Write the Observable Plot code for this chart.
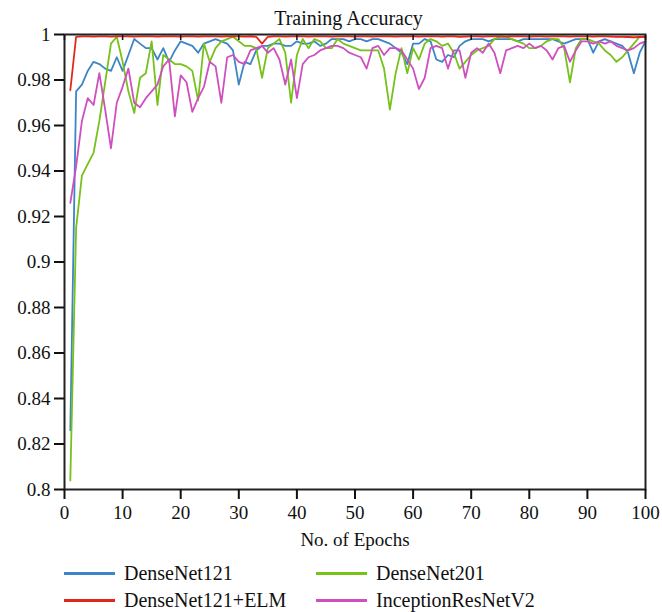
<!DOCTYPE html>
<html><head><meta charset="utf-8">
<script src="https://cdn.jsdelivr.net/npm/d3@7"></script>
<script src="https://cdn.jsdelivr.net/npm/@observablehq/plot@0.6"></script>
<style>
body{margin:0;background:#fff;font-family:"Liberation Serif",serif;color:#111;}
#title{height:24px;line-height:24px;padding-top:6px;box-sizing:border-box;font-size:20px;text-align:center;width:581px;margin-left:58px;overflow:visible;}
#legend{display:grid;grid-template-columns:252px 280px;margin-left:64px;padding-top:5px;}
.item{display:flex;align-items:center;height:27px;font-size:20px;white-space:nowrap;}
.sw{width:51px;height:3px;margin-right:9px;}
</style></head><body>
<div id="title">Training Accuracy</div>
<div id="chart"></div>
<div id="legend"></div>
<script>
const names = ["DenseNet121", "DenseNet201", "InceptionResNetV2", "DenseNet121+ELM"];
const colors = ["#3d85c6", "#76c11a", "#cf4fbf", "#e3261b"];
const legendOrder = ["DenseNet121", "DenseNet201", "DenseNet121+ELM", "InceptionResNetV2"];
const xTicks = [0, 10, 20, 30, 40, 50, 60, 70, 80, 90, 100];
const yTicks = [0.8, 0.82, 0.84, 0.86, 0.88, 0.9, 0.92, 0.94, 0.96, 0.98, 1];

const denseNet121 = [
 0.826, 0.975, 0.978, 0.984, 0.988, 0.987, 0.985, 0.984, 0.990, 0.984,
 0.991, 0.998, 0.996, 0.994, 0.994, 0.989, 0.994, 0.988, 0.993, 0.997,
 0.996, 0.995, 0.992, 0.996, 0.997, 0.998, 0.997, 0.996, 0.993, 0.978,
 0.988, 0.987, 0.993, 0.995, 0.995, 0.996, 0.996, 0.995, 0.995, 0.997,
 0.996, 0.996, 0.997, 0.995, 0.996, 0.998, 0.998, 0.998, 0.997, 0.998,
 0.998, 0.997, 0.998, 0.998, 0.997, 0.996, 0.994, 0.992, 0.987, 0.996,
 0.996, 0.998, 0.997, 0.989, 0.988, 0.991, 0.990, 0.995, 0.997, 0.998,
 0.998, 0.998, 0.997, 0.998, 0.998, 0.998, 0.998, 0.997, 0.998, 0.998,
 0.998, 0.998, 0.998, 0.998, 0.997, 0.996, 0.997, 0.998, 0.998, 0.998,
 0.992, 0.997, 0.998, 0.997, 0.996, 0.995, 0.992, 0.983, 0.992, 0.997];

const denseNet201 = [
 0.804, 0.915, 0.938, 0.943, 0.948, 0.962, 0.979, 0.996, 0.999, 0.988,
 0.975, 0.9655, 0.981, 0.983, 0.997, 0.969, 0.991, 0.989, 0.987, 0.987,
 0.986, 0.984, 0.971, 0.996, 0.988, 0.994, 0.997, 0.998, 0.999, 0.997,
 0.995, 0.995, 0.994, 0.981, 0.994, 0.996, 0.998, 0.992, 0.970, 0.991,
 0.998, 0.994, 0.998, 0.997, 0.994, 0.994, 0.998, 0.996, 0.995, 0.994,
 0.993, 0.993, 0.993, 0.993, 0.985, 0.967, 0.983, 0.994, 0.983, 0.994,
 0.989, 0.996, 0.998, 0.997, 0.995, 0.996, 0.992, 0.985, 0.988, 0.991,
 0.993, 0.994, 0.995, 0.998, 0.999, 0.999, 0.998, 0.997, 0.996, 0.994,
 0.994, 0.995, 0.997, 0.998, 0.998, 0.994, 0.979, 0.994, 0.998, 0.998,
 0.997, 0.996, 0.993, 0.991, 0.988, 0.990, 0.993, 0.996, 0.999, 0.999];

const inceptionResNetV2 = [
 0.926, 0.942, 0.962, 0.972, 0.969, 0.983, 0.967, 0.950, 0.970, 0.977,
 0.985, 0.970, 0.968, 0.972, 0.975, 0.978, 0.986, 0.989, 0.964, 0.982,
 0.979, 0.966, 0.972, 0.977, 0.988, 0.986, 0.970, 0.990, 0.991, 0.988,
 0.987, 0.993, 0.994, 0.995, 0.992, 0.994, 0.989, 0.978, 0.989, 0.972,
 0.987, 0.990, 0.991, 0.993, 0.994, 0.995, 0.995, 0.994, 0.992, 0.991,
 0.990, 0.985, 0.994, 0.995, 0.991, 0.994, 0.994, 0.993, 0.989, 0.985,
 0.976, 0.981, 0.994, 0.995, 0.994, 0.985, 0.993, 0.993, 0.981, 0.992,
 0.994, 0.992, 0.996, 0.992, 0.983, 0.993, 0.994, 0.995, 0.994, 0.996,
 0.994, 0.995, 0.993, 0.989, 0.994, 0.995, 0.988, 0.993, 0.997, 0.997,
 0.996, 0.997, 0.996, 0.997, 0.995, 0.994, 0.993, 0.994, 0.996, 0.997];

const denseNet121ELM = [
 0.9755, 0.9990, 0.9992, 0.9992, 0.9991, 0.9992, 0.9992, 0.9991, 0.9992, 0.9992,
 0.9992, 0.9991, 0.9992, 0.9992, 0.9992, 0.9991, 0.9992, 0.9992, 0.9992, 0.9991,
 0.9992, 0.9992, 0.9991, 0.9992, 0.9992, 0.9992, 0.9991, 0.9992, 0.9992, 0.9992,
 0.9991, 0.9992, 0.9990, 0.9960, 0.9990, 0.9992, 0.9992, 0.9991, 0.9992, 0.9992,
 0.9992, 0.9991, 0.9992, 0.9992, 0.9992, 0.9991, 0.9992, 0.9992, 0.9992, 0.9991,
 0.9992, 0.9992, 0.9991, 0.9992, 0.9992, 0.9992, 0.9991, 0.9992, 0.9992, 0.9992,
 0.9991, 0.9992, 0.9992, 0.9992, 0.9991, 0.9992, 0.9992, 0.9990, 0.9991, 0.9992,
 0.9992, 0.9991, 0.9992, 0.9992, 0.9992, 0.9991, 0.9992, 0.9992, 0.9992, 0.9991,
 0.9992, 0.9992, 0.9991, 0.9992, 0.9992, 0.9992, 0.9991, 0.9992, 0.9992, 0.9992,
 0.9991, 0.9992, 0.9992, 0.9991, 0.9990, 0.9990, 0.9989, 0.9988, 0.9989, 0.9990];

const seriesValues = [denseNet121, denseNet201, inceptionResNetV2, denseNet121ELM];
const epochs = denseNet121.map((_, i) => i + 1);

const rows = [];
names.forEach((name, s) => {
  seriesValues[s].forEach((v, i) => rows.push({model: name, epoch: epochs[i], acc: v}));
});

const chart = Plot.plot({
  width: 662,
  height: 531,
  marginLeft: 64,
  marginRight: 17,
  marginTop: 10,
  marginBottom: 66,
  style: {fontFamily: "'Liberation Serif', serif", fontSize: "19px", color: "#111", background: "#fff"},
  x: {domain: [0, 100]},
  y: {domain: [0.8, 1]},
  color: {domain: names, range: colors},
  marks: [
    Plot.line(rows, {x: "epoch", y: "acc", z: "model", stroke: "model", strokeWidth: 1.8}),
    Plot.frame({stroke: "#222", strokeWidth: 2}),
    Plot.axisX({ticks: xTicks, tickSize: 10, tickPadding: 6, strokeWidth: 2, fontSize: 19,
      label: "No. of Epochs", labelAnchor: "center", labelOffset: 56, labelArrow: "none"}),
    Plot.axisX({ticks: xTicks, anchor: "top", tickSize: -5, tickFormat: () => "", label: null, strokeWidth: 1.5}),
    Plot.axisY({ticks: yTicks, tickSize: 10, tickPadding: 4, strokeWidth: 2, fontSize: 19,
      label: null, tickFormat: d3.format("~g")})
  ]
});
document.getElementById("chart").appendChild(chart);

const legend = document.getElementById("legend");
legendOrder.forEach(name => {
  const item = document.createElement("div");
  item.className = "item";
  const sw = document.createElement("span");
  sw.className = "sw";
  sw.style.background = colors[names.indexOf(name)];
  const label = document.createElement("span");
  label.textContent = name;
  item.appendChild(sw);
  item.appendChild(label);
  legend.appendChild(item);
});
</script>
</body></html>
